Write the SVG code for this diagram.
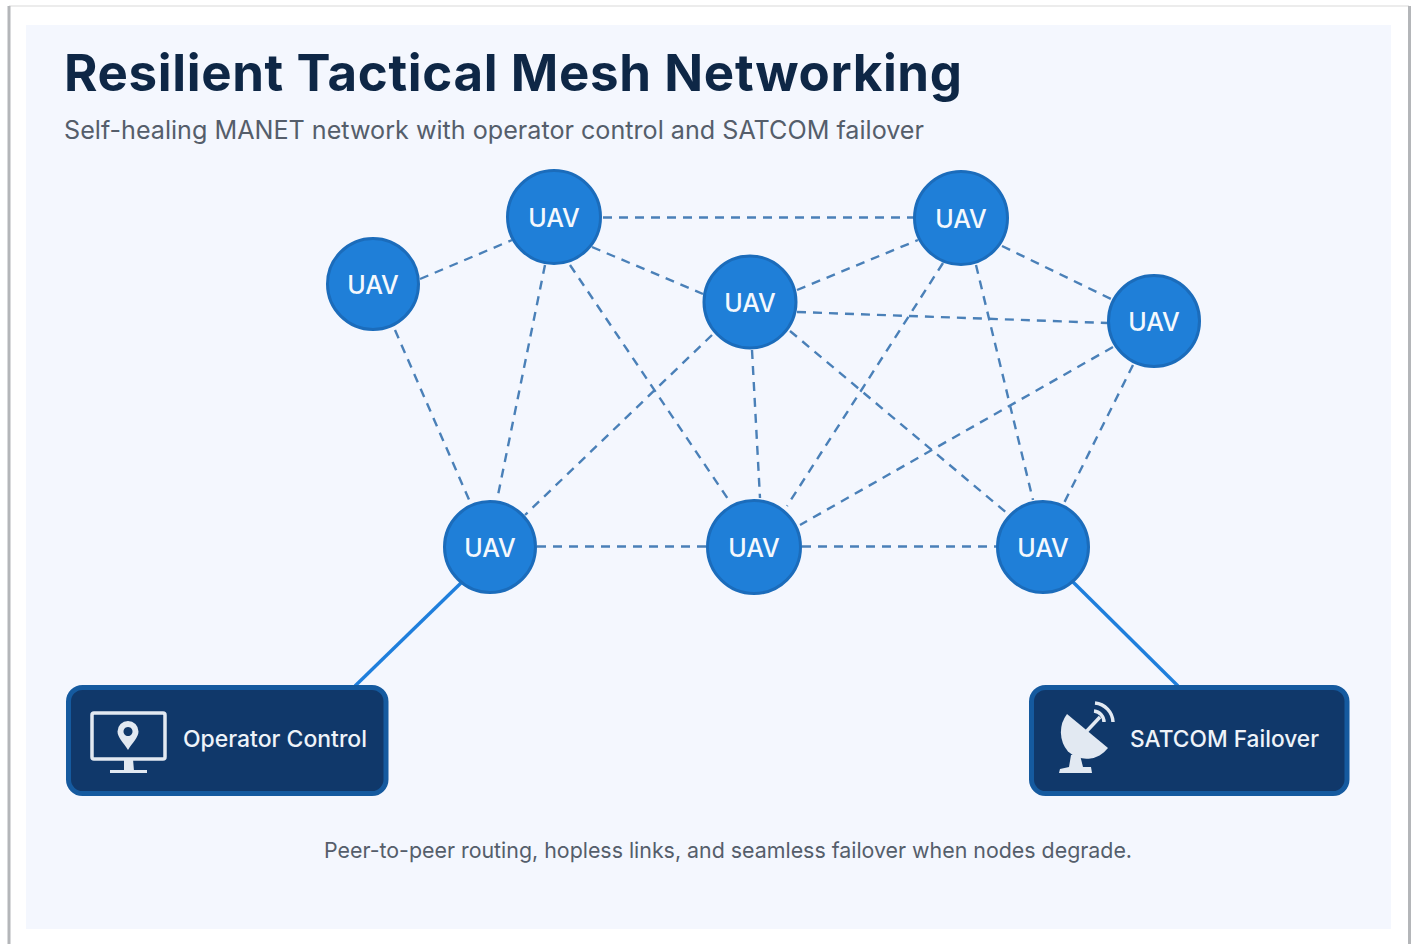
<svg xmlns="http://www.w3.org/2000/svg" width="1416" height="944" viewBox="0 0 1416 944">
<style>
.t{font-family:Inter,"Liberation Sans",sans-serif}
.link{stroke:#4a80b8;stroke-width:2.4;stroke-dasharray:9 7;fill:none}
.solid{stroke:#1f7fdc;stroke-width:3.4;fill:none}
.uav{fill:#1f7fd8;stroke:#1b6cbb;stroke-width:3}
.uavt{font-size:25px;font-weight:500;fill:#f4f8fd;text-anchor:middle}
.box{fill:#10386a;stroke:#155a9f;stroke-width:5}
.boxt{font-size:23px;font-weight:500;fill:#eef3f9}
.ic{fill:none;stroke:#e2e9f2;stroke-width:3.500}
.if{fill:#e2e9f2}
.edge{stroke:#b4b6b9;stroke-width:3;fill:none}
</style>
<rect width="1416" height="944" fill="#fff"/>
<line x1="9" y1="6" x2="1409" y2="6" stroke="#ececec" stroke-width="2"/>
<line class="edge" x1="9" y1="6" x2="9" y2="944"/>
<line class="edge" x1="1409.500" y1="6" x2="1409.500" y2="944"/>
<rect x="26" y="25" width="1365" height="904" fill="#f4f7fe"/>
<text class="t" x="64" y="91" font-size="51" font-weight="700" fill="#0e2746" textLength="898" lengthAdjust="spacing">Resilient Tactical Mesh Networking</text>
<text class="t" x="64" y="139" font-size="25" fill="#555e6b" textLength="860" lengthAdjust="spacingAndGlyphs">Self-healing MANET network with operator control and SATCOM failover</text>
<g id="connectors">
<line class="link" x1="420" y1="279" x2="512" y2="240"/>
<line class="link" x1="603" y1="217.500" x2="914" y2="217.500"/>
<line class="link" x1="592" y1="247" x2="703" y2="294"/>
<line class="link" x1="797" y1="290" x2="918" y2="240"/>
<line class="link" x1="797" y1="312" x2="1108" y2="323"/>
<line class="link" x1="1002" y1="246" x2="1113" y2="300"/>
<line class="link" x1="395" y1="330" x2="470" y2="502"/>
<line class="link" x1="545" y1="265" x2="497" y2="500"/>
<line class="link" x1="570" y1="265" x2="730" y2="502"/>
<line class="link" x1="712" y1="335" x2="525" y2="515"/>
<line class="link" x1="752" y1="350" x2="760" y2="498"/>
<line class="link" x1="790" y1="331" x2="1008" y2="514"/>
<line class="link" x1="943" y1="263" x2="787" y2="506"/>
<line class="link" x1="976" y1="265" x2="1033" y2="500"/>
<line class="link" x1="1113" y1="347" x2="800" y2="525"/>
<line class="link" x1="1133" y1="365" x2="1063" y2="505"/>
<line class="link" x1="537" y1="546.500" x2="707" y2="546.500"/>
<line class="link" x1="802" y1="546.500" x2="997" y2="546.500"/>
<line class="solid" x1="462" y1="582" x2="355" y2="686"/>
<line class="solid" x1="1073" y1="582" x2="1178" y2="686"/>
</g>
<g id="uav1"><circle class="uav" cx="373" cy="284" r="45.5"/><text class="t uavt" x="373" y="293.500">UAV</text></g>
<g id="uav2"><circle class="uav" cx="554" cy="217" r="46.5"/><text class="t uavt" x="554" y="227">UAV</text></g>
<g id="uav3"><circle class="uav" cx="750" cy="302" r="46"/><text class="t uavt" x="750" y="312">UAV</text></g>
<g id="uav4"><circle class="uav" cx="961" cy="218" r="46.5"/><text class="t uavt" x="961" y="227.500">UAV</text></g>
<g id="uav5"><circle class="uav" cx="1154" cy="321" r="45.5"/><text class="t uavt" x="1154" y="331">UAV</text></g>
<g id="uav6"><circle class="uav" cx="490" cy="547" r="45.5"/><text class="t uavt" x="490" y="557">UAV</text></g>
<g id="uav7"><circle class="uav" cx="754" cy="547" r="46.5"/><text class="t uavt" x="754" y="557">UAV</text></g>
<g id="uav8"><circle class="uav" cx="1043" cy="547" r="45.5"/><text class="t uavt" x="1043" y="557">UAV</text></g>
<g id="operator">
<rect class="box" x="68.500" y="687.500" width="317.500" height="106" rx="14"/>
<rect class="ic" x="92" y="713" width="73" height="46" rx="2"/>
<path class="if" d="M124 759h9l1 12h-10zM110 770h37v3h-37z"/>
<path class="if" fill-rule="evenodd" d="M128 721a10.500 10.500 0 0 1 10.500 10.500c0 6-6 11-10.500 18.500c-4.500-7.500-10.500-12.500-10.500-18.500a10.500 10.500 0 0 1 10.500-10.500zm0 6a4.500 4.500 0 1 0 .01 0z"/>
<text class="t boxt" x="183" y="747" textLength="184" lengthAdjust="spacingAndGlyphs">Operator Control</text>
</g>
<g id="satcom">
<rect class="box" x="1031.500" y="687.500" width="315.500" height="106" rx="14"/>
<path class="if" d="M1067 714L1108 748a27 27 0 0 1-40 3.500a30 30 0 0 1-1-37.500z"/>
<path class="ic" d="M1085 733L1100 717" stroke-width="4.500"/>
<path class="ic" d="M1094 711a11 11 0 0 1 10 11M1095 703a20 20 0 0 1 18 19" stroke-width="3"/>
<path class="if" d="M1071 755h9l3 12h8l1 6h-33l1-4 9-2z"/>
<text class="t boxt" x="1130" y="747" textLength="189" lengthAdjust="spacingAndGlyphs">SATCOM Failover</text>
</g>
<text class="t" x="728" y="858" font-size="22" fill="#555e6b" text-anchor="middle" textLength="808" lengthAdjust="spacingAndGlyphs">Peer-to-peer routing, hopless links, and seamless failover when nodes degrade.</text>
</svg>
